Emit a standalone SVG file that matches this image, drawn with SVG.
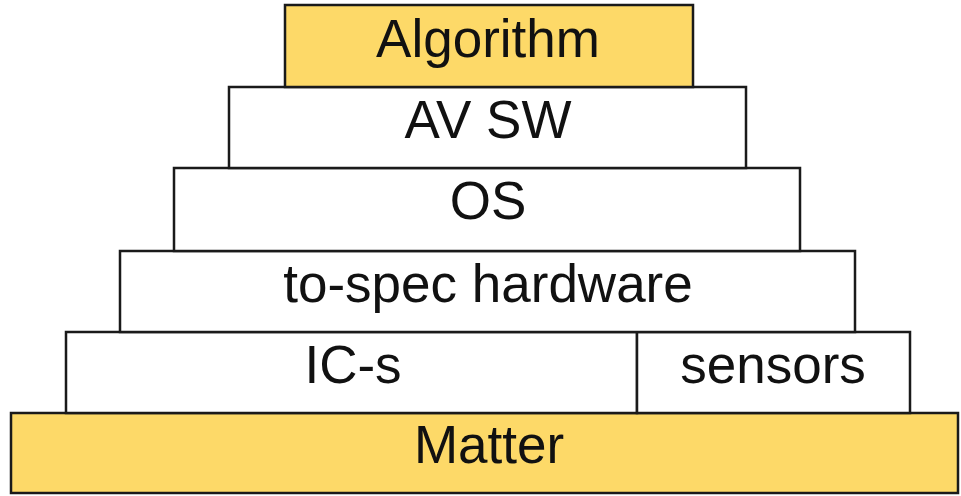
<svg xmlns="http://www.w3.org/2000/svg" width="961" height="496" viewBox="0 0 961 496">
  <style>
    .box { stroke: #1a1a1a; stroke-width: 2.5; fill: #ffffff; }
    .yellow { fill: #fdd968; }
    .lbl { font-family: "Liberation Sans", Arial, sans-serif; font-size: 53px; fill: #111111; text-anchor: middle; }
  </style>
  <rect width="961" height="496" fill="#ffffff"/>
  <g id="matter">
    <rect class="box yellow" x="11" y="413" width="947" height="80"/>
    <text class="lbl" x="489" y="463">Matter</text>
  </g>
  <g id="ic-s">
    <rect class="box" x="66" y="332" width="571" height="81"/>
    <text class="lbl" x="353" y="383">IC-s</text>
  </g>
  <g id="sensors">
    <rect class="box" x="637" y="332" width="273" height="81"/>
    <text class="lbl" x="773" y="383">sensors</text>
  </g>
  <g id="hardware">
    <rect class="box" x="120" y="251" width="735" height="81"/>
    <text class="lbl" x="488" y="302">to-spec hardware</text>
  </g>
  <g id="os">
    <rect class="box" x="174" y="168" width="626" height="83"/>
    <text class="lbl" x="488" y="219">OS</text>
  </g>
  <g id="avsw">
    <rect class="box" x="229" y="87" width="517" height="81"/>
    <text class="lbl" x="488" y="138">AV SW</text>
  </g>
  <g id="algorithm">
    <rect class="box yellow" x="285" y="5" width="408" height="82"/>
    <text class="lbl" x="488" y="57">Algorithm</text>
  </g>
  <g id="connectors"></g>
</svg>
